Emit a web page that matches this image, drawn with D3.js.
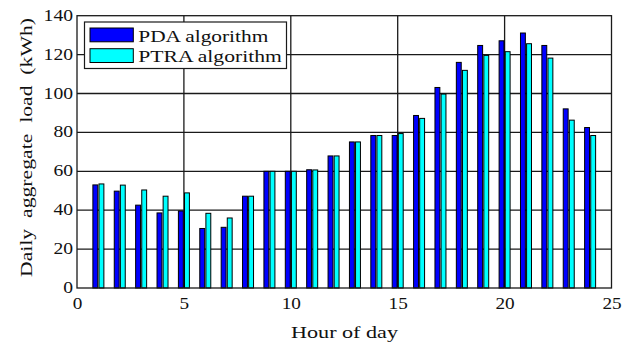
<!DOCTYPE html>
<html>
<head>
<meta charset="utf-8">
<script src="https://cdn.jsdelivr.net/npm/d3@7"></script>
<style>
  html, body { margin: 0; padding: 0; background: #fff; }
  svg { display: block; }
  text { font-family: "Liberation Serif", "DejaVu Serif", serif; fill: #111; }
</style>
</head>
<body>
<svg id="chart" width="631" height="347"></svg>
<script>
// Hours of the day (bar groups)
const hours = [1, 2, 3, 4, 5, 6, 7, 8, 9, 10, 11, 12, 13, 14, 15, 16, 17, 18, 19, 20, 21, 22, 23, 24];
// Daily aggregate load (kWh) per hour for each algorithm
const pdaLoad  = [53, 49.8, 42.6, 38.6, 39.6, 30.6, 31.2, 47.2, 60, 60, 60.8, 67.9,
                  75.1, 78.4, 78.4, 88.7, 103.1, 116, 124.7, 127.1, 131.1, 124.7, 92.1, 82.5];
const ptraLoad = [53.5, 52.9, 50.4, 47.2, 48.9, 38.4, 36, 47.2, 60, 60, 60.7, 67.9,
                  75.1, 78.4, 79.4, 87.2, 99.7, 111.9, 119.6, 121.5, 125.6, 118.2, 86.3, 78.4];
const seriesNames = ["PDA algorithm", "PTRA algorithm"];
const seriesColors = ["#0000ff", "#00ffff"];
const xTicks = [0, 5, 10, 15, 20, 25];
const yTicks = [0, 20, 40, 60, 80, 100, 120, 140];

const svg = d3.select("#chart");
const plotL = 77, plotR = 611.5, plotT = 15.7, plotB = 288;

const x = d3.scaleLinear().domain([0, 25]).range([plotL, plotR]);
const y = d3.scaleLinear().domain([0, 140]).range([plotB, plotT]);

// Grid lines
const grid = svg.append("g").attr("stroke", "#1a1a1a").attr("stroke-width", 1.3);
grid.selectAll("line.v").data(xTicks.slice(1, -1)).join("line")
  .attr("x1", d => x(d)).attr("x2", d => x(d))
  .attr("y1", plotT).attr("y2", plotB);
grid.selectAll("line.h").data(yTicks.slice(1, -1)).join("line")
  .attr("x1", plotL).attr("x2", plotR)
  .attr("y1", d => y(d)).attr("y2", d => y(d));

// Grouped bars (two series per hour)
const groupW = 2 / 3.5;            // total group width in hour units
const barW = groupW / 2 * 0.8;     // each bar's width
const offsets = [-groupW / 4, groupW / 4];
const seriesData = [pdaLoad, ptraLoad];

seriesData.forEach((vals, si) => {
  svg.append("g")
    .selectAll("rect")
    .data(hours.map((h, i) => ({ h, v: vals[i] })))
    .join("rect")
    .attr("x", d => x(d.h + offsets[si] - barW / 2))
    .attr("width", d => x(d.h + offsets[si] + barW / 2) - x(d.h + offsets[si] - barW / 2))
    .attr("y", d => y(d.v))
    .attr("height", d => y(0) - y(d.v))
    .attr("fill", seriesColors[si])
    .attr("stroke", "#000")
    .attr("stroke-width", 1);
});

// Axes frame
svg.append("rect")
  .attr("x", plotL).attr("y", plotT)
  .attr("width", plotR - plotL).attr("height", plotB - plotT)
  .attr("fill", "none").attr("stroke", "#1a1a1a").attr("stroke-width", 1.3);

// X axis tick labels
const xAxis = d3.axisBottom(x).tickValues(xTicks).tickSize(0).tickPadding(0);
const gx = svg.append("g").attr("transform", `translate(0,${plotB})`).call(xAxis);
gx.select(".domain").remove();
gx.selectAll("text")
  .attr("dy", null).attr("y", 21)
  .style("font-size", "17px")
  .attr("textLength", d => String(d).length * 9.6)
  .attr("lengthAdjust", "spacingAndGlyphs");

// Y axis tick labels
const yAxis = d3.axisLeft(y).tickValues(yTicks).tickSize(0).tickPadding(0);
const gy = svg.append("g").attr("transform", `translate(${plotL - 4},0)`).call(yAxis);
gy.select(".domain").remove();
gy.selectAll("text")
  .attr("dy", null).attr("x", 0).attr("y", 4.5)
  .style("font-size", "17px")
  .attr("textLength", d => String(d).length * 9.8)
  .attr("lengthAdjust", "spacingAndGlyphs");

// Axis titles
svg.append("text")
  .attr("x", 344.5).attr("y", 338)
  .attr("text-anchor", "middle")
  .style("font-size", "17px")
  .attr("textLength", 107).attr("lengthAdjust", "spacingAndGlyphs")
  .text("Hour of day");

svg.append("text")
  .attr("transform", "translate(31.5,147.5) rotate(-90)")
  .attr("text-anchor", "middle")
  .style("font-size", "17px")
  .style("white-space", "pre")
  .attr("textLength", 259).attr("lengthAdjust", "spacingAndGlyphs")
  .text("Daily  aggregate  load  (kWh)");

// Legend
const legend = svg.append("g");
legend.append("rect")
  .attr("x", 84.5).attr("y", 22).attr("width", 202).attr("height", 46.5)
  .attr("fill", "#fff").attr("stroke", "#1a1a1a").attr("stroke-width", 1.2);
const legendY = [28, 48.7];
const legendW = [130, 143.5];
seriesNames.forEach((name, i) => {
  legend.append("rect")
    .attr("x", 90).attr("y", legendY[i]).attr("width", 43.3).attr("height", 13.8)
    .attr("fill", seriesColors[i]).attr("stroke", "#000").attr("stroke-width", 1);
  legend.append("text")
    .attr("x", 138.3).attr("y", legendY[i] + 13.5)
    .style("font-size", "17px")
    .attr("textLength", legendW[i]).attr("lengthAdjust", "spacingAndGlyphs")
    .text(name);
});
</script>
</body>
</html>
